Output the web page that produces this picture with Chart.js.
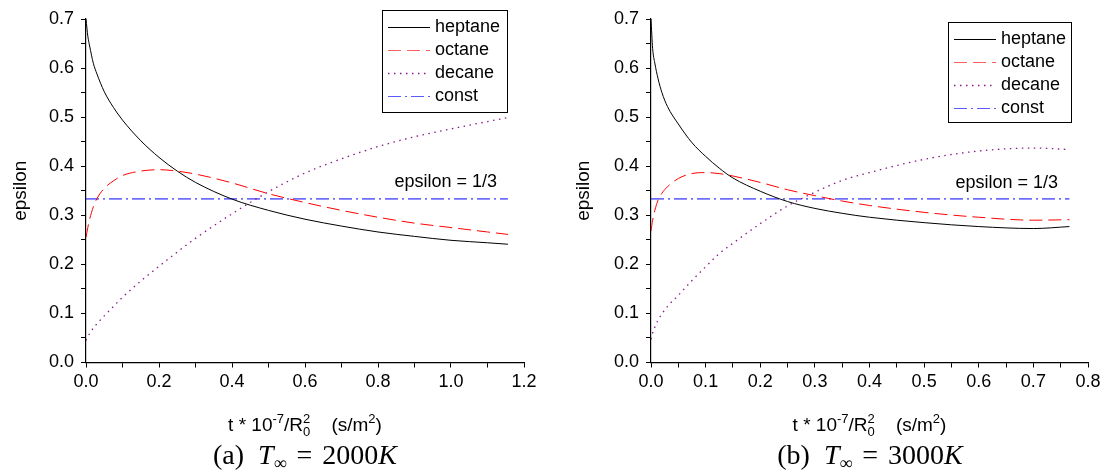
<!DOCTYPE html>
<html>
<head>
<meta charset="utf-8">
<script src="https://cdn.jsdelivr.net/npm/chart.js@4.4.1/dist/chart.umd.min.js"></script>
<style>
  html, body { margin: 0; padding: 0; background: #fff; }
  #wrap { position: relative; width: 1107px; height: 476px; overflow: hidden; }
  canvas { position: absolute; top: 0; }
  #cvA { left: 0; }
  #cvB { left: 555px; }
  .cap {
    position: absolute; top: 440px; white-space: nowrap; transform: translateX(-50%);
    font-family: "Liberation Serif", "DejaVu Serif", serif; font-size: 28px; line-height: 30px;
  }
  .cap i { font-style: italic; }
  .cap sub { font-size: 18px; vertical-align: -5px; line-height: 0; }
  .cap .eq { margin: 0 10px; }
</style>
</head>
<body>
<div id="wrap">
  <canvas id="cvA" width="555" height="476"></canvas>
  <canvas id="cvB" width="552" height="476"></canvas>
  <div class="cap" style="left:305px">(a)&nbsp;&nbsp;<i>T</i><sub>∞</sub><span class="eq">=</span>2000<i>K</i></div>
  <div class="cap" style="left:870px">(b)&nbsp;&nbsp;<i>T</i><sub>∞</sub><span class="eq">=</span>3000<i>K</i></div>
</div>
<script>
// valeurs : (a) T = 2000K, (b) T = 3000K
const tA = [0, 0.005, 0.01, 0.02, 0.03, 0.05, 0.075, 0.1, 0.15, 0.2, 0.25, 0.3, 0.4, 0.5, 0.6, 0.7, 0.8, 0.9, 1.0, 1.1, 1.156];
const heptaneA = [0.700, 0.665, 0.645, 0.610, 0.588, 0.552, 0.520, 0.494, 0.452, 0.418, 0.390, 0.367, 0.333, 0.310, 0.292, 0.278, 0.266, 0.257, 0.249, 0.244, 0.241];
const octaneA = [0.255, 0.275, 0.292, 0.317, 0.334, 0.355, 0.370, 0.381, 0.390, 0.393, 0.390, 0.384, 0.366, 0.344, 0.326, 0.310, 0.296, 0.284, 0.275, 0.266, 0.261];
const decaneA = [0.045, 0.052, 0.059, 0.070, 0.079, 0.095, 0.114, 0.133, 0.166, 0.196, 0.225, 0.253, 0.303, 0.348, 0.386, 0.415, 0.440, 0.460, 0.476, 0.491, 0.499];

const tB = [0, 0.003, 0.007, 0.013, 0.02, 0.03, 0.05, 0.075, 0.1, 0.125, 0.15, 0.2, 0.25, 0.3, 0.35, 0.4, 0.5, 0.6, 0.7, 0.766];
const heptaneB = [0.700, 0.640, 0.610, 0.578, 0.550, 0.522, 0.486, 0.448, 0.420, 0.396, 0.376, 0.349, 0.328, 0.314, 0.304, 0.296, 0.285, 0.277, 0.273, 0.277];
const octaneB = [0.268, 0.290, 0.310, 0.331, 0.345, 0.358, 0.375, 0.385, 0.387, 0.385, 0.380, 0.367, 0.352, 0.340, 0.329, 0.320, 0.306, 0.296, 0.290, 0.291];
const decaneB = [0.047, 0.060, 0.072, 0.087, 0.099, 0.114, 0.137, 0.167, 0.195, 0.222, 0.243, 0.283, 0.319, 0.347, 0.371, 0.387, 0.414, 0.431, 0.437, 0.434];

const epsConst = 1 / 3;
const seriesNames = ['heptane', 'octane', 'decane', 'const'];
const noteText = 'epsilon = 1/3';
const yTitle = 'epsilon';
const yMax = 0.7, yMajor = 0.1;
const xMaxA = 1.2, xMajorA = 0.2;
const xMaxB = 0.8, xMajorB = 0.1;

const FONT = '"Liberation Sans", Arial, sans-serif';
const lineColors = ['#000000', '#ff0000', '#8a1a8a', '#0000ff'];
const legendColors = ['#000000', '#ff6060', '#8a1a8a', '#5a5aff'];
const dashes = [[], [13, 6], [1.5, 4.5], [13, 4, 2, 4]];

function pts(xs, ys) {
  return xs.map((x, i) => ({ x: x, y: ys[i] }));
}

// légende, note et titre de l'axe x (avec exposants / indices)
const decor = {
  id: 'decor',
  afterDraw(chart, args, o) {
    const ctx = chart.ctx, xs = chart.scales.x, ys = chart.scales.y;
    ctx.save();
    ctx.font = '18px ' + FONT;
    ctx.fillStyle = '#000';
    ctx.textAlign = 'right';
    ctx.textBaseline = 'middle';
    ctx.fillText(noteText, xs.getPixelForValue(o.noteX), ys.getPixelForValue(o.noteY));

    const bx = o.boxX, by = o.boxY;
    ctx.setLineDash([]);
    ctx.strokeStyle = '#000';
    ctx.lineWidth = 1;
    ctx.strokeRect(bx + 0.5, by + 0.5, o.boxW, o.boxH);
    ctx.textAlign = 'left';
    for (let i = 0; i < seriesNames.length; i++) {
      const y = by + 17 + i * 23;
      ctx.beginPath();
      ctx.setLineDash(dashes[i]);
      ctx.strokeStyle = legendColors[i];
      ctx.lineWidth = i == 2 ? 1.4 : 1.2;
      ctx.moveTo(bx + 6, y + 0.5);
      ctx.lineTo(bx + 48, y + 0.5);
      ctx.stroke();
      ctx.setLineDash([]);
      ctx.fillStyle = '#000';
      ctx.fillText(seriesNames[i], bx + 53, y);
    }

    // t * 10^-7/R_0^2   (s/m^2)
    const big = '19px ' + FONT, small = '13px ' + FONT;
    const parts = [
      { t: 't * 10', f: big, dy: 0 },
      { t: '-7', f: small, dy: -8 },
      { t: '/R', f: big, dy: 0 },
      { t: '2', f: small, dy: -8, sub: '0' },
      { t: '    (s/m', f: big, dy: 0 },
      { t: '2', f: small, dy: -8 },
      { t: ')', f: big, dy: 0 }
    ];
    let w = 0;
    parts.forEach(p => { ctx.font = p.f; p.w = ctx.measureText(p.t).width; w += p.w; });
    let x = (xs.left + xs.right) / 2 - w / 2;
    ctx.textBaseline = 'alphabetic';
    parts.forEach(p => {
      ctx.font = p.f;
      ctx.fillText(p.t, x, o.titleY + p.dy);
      if (p.sub) ctx.fillText(p.sub, x, o.titleY + 5);
      x += p.w;
    });
    ctx.restore();
  }
};

function makeChart(id, t, hep, oct, dec, xMax, xMajor, o) {
  const tEnd = t[t.length - 1];
  const series = [pts(t, hep), pts(t, oct), pts(t, dec), pts([0, tEnd], [epsConst, epsConst])];
  const isMajor = (v, step) => Math.abs(v / step - Math.round(v / step)) < 1e-6;
  new Chart(document.getElementById(id), {
    type: 'line',
    data: {
      datasets: series.map((d, i) => ({
        label: seriesNames[i],
        data: d,
        borderColor: lineColors[i],
        borderWidth: i == 2 ? 1.3 : 1,
        borderDash: dashes[i],
        pointRadius: 0,
        fill: false,
        cubicInterpolationMode: 'monotone'
      }))
    },
    options: {
      responsive: false,
      animation: false,
      layout: { padding: { top: 19, right: o.padRight, left: 0, bottom: 0 } },
      plugins: { legend: { display: false }, tooltip: { enabled: false }, decor: o },
      scales: {
        x: {
          type: 'linear', min: 0, max: xMax,
          border: { display: true, color: '#000', width: 1.2 },
          grid: { drawOnChartArea: false, tickLength: 5, color: '#000', tickColor: '#000' },
          ticks: {
            stepSize: xMajor / 2, autoSkip: false, maxRotation: 0, padding: 4,
            color: '#000', font: { family: FONT, size: 18 },
            callback: v => isMajor(v, xMajor) ? v.toFixed(1) : ''
          },
          afterFit: s => { s.height = 113.5; }
        },
        y: {
          min: 0, max: yMax,
          border: { display: true, color: '#000', width: 1.2 },
          grid: { drawOnChartArea: false, tickLength: 5, color: '#000', tickColor: '#000' },
          ticks: {
            stepSize: yMajor / 2, autoSkip: false, padding: 7,
            color: '#000', font: { family: FONT, size: 18 },
            callback: v => isMajor(v, yMajor) ? v.toFixed(1) : ''
          },
          title: {
            display: true, text: yTitle, color: '#000',
            font: { family: FONT, size: 19 }, padding: { top: o.yTitlePad, bottom: 0 }
          },
          afterFit: s => { s.width = o.axisLeft; }
        }
      }
    },
    plugins: [decor]
  });
}

makeChart('cvA', tA, heptaneA, octaneA, decaneA, xMaxA, xMajorA, {
  axisLeft: 86, padRight: 31, yTitlePad: 9,
  boxX: 382, boxY: 10, boxW: 125, boxH: 102,
  noteX: 1.126, noteY: 0.368, titleY: 431
});
makeChart('cvB', tB, heptaneB, octaneB, decaneB, xMaxB, xMajorB, {
  axisLeft: 96, padRight: 19, yTitlePad: 17,
  boxX: 393, boxY: 22, boxW: 123, boxH: 100,
  noteX: 0.745, noteY: 0.365, titleY: 431
});
</script>
</body>
</html>
